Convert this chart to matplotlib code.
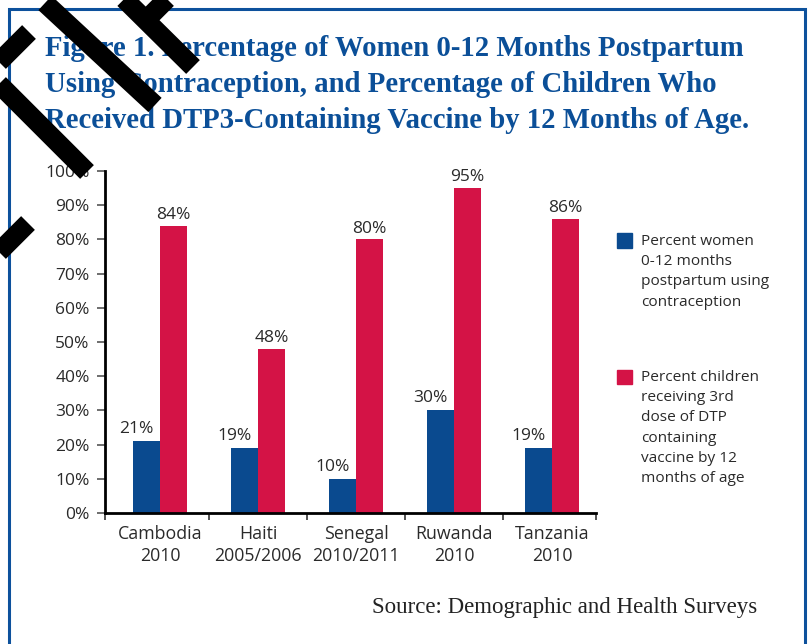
import numpy as np
import matplotlib
matplotlib.use("Agg")
import matplotlib.pyplot as plt
from matplotlib.lines import Line2D
from matplotlib.patches import Rectangle

countries = ["Cambodia\n2010", "Haiti\n2005/2006", "Senegal\n2010/2011",
             "Ruwanda\n2010", "Tanzania\n2010"]
women_pct = [21, 19, 10, 30, 19]
children_pct = [84, 48, 80, 95, 86]
legend_women = "Percent women\n0-12 months\npostpartum using\ncontraception"
legend_children = ("Percent children\nreceiving 3rd\ndose of DTP\ncontaining\n"
                   "vaccine by 12\nmonths of age")
title_lines = [
    "Figure 1. Percentage of Women 0-12 Months Postpartum",
    "Using Contraception, and Percentage of Children Who",
    "Received DTP3-Containing Vaccine by 12 Months of Age.",
]
source = "Source: Demographic and Health Surveys"

W, H = 809, 644
blue = "#0a4a8f"
red = "#d41346"
frame_blue = "#0d519c"
txt = "#2a2a2a"

plt.rcParams["font.family"] = ["Open Sans", "DejaVu Sans"]

fig = plt.figure(figsize=(W / 100, H / 100), dpi=100)

def fx(x):
    return x / W

def fy(y):
    return 1 - y / H

# frame
fig.patches.append(Rectangle((fx(9), fy(700)), fx(805) - fx(9), fy(9) - fy(700),
                             transform=fig.transFigure, fill=False,
                             edgecolor=frame_blue, linewidth=2.2))

# title
for i, line in enumerate(title_lines):
    fig.text(fx(45), fy([56, 92, 128][i]), line, family="Liberation Serif",
             fontweight="bold", fontsize=20.7, color="#0b4f98", va="baseline")

fig.text(fx(757), fy(607), source, family="Liberation Serif", fontsize=16.5,
         color="#222222", ha="right", va="center")

ax = fig.add_axes([fx(105), fy(513), fx(596) - fx(105), fy(171) - fy(513)])
x = np.arange(len(countries))
w = 0.28
ax.bar(x - w / 2, women_pct, w, color=blue)
ax.bar(x + w / 2, children_pct, w, color=red)
for xi, v in zip(x, women_pct):
    ax.annotate(f"{v}%", (xi - w / 2 - 0.1, v), xytext=(0, 3),
                textcoords="offset points", ha="center", va="bottom",
                fontsize=12.5, color=txt)
for xi, v in zip(x, children_pct):
    ax.annotate(f"{v}%", (xi + w / 2, v), xytext=(0, 2),
                textcoords="offset points", ha="center", va="bottom",
                fontsize=12.5, color=txt)

ax.set_xlim(-0.561, 4.449)
ax.set_ylim(0, 100)
ax.set_yticks(np.arange(0, 101, 10))
ax.set_yticklabels([f"{v}%" for v in range(0, 101, 10)], fontsize=12.5, color=txt)
ax.tick_params(axis="y", length=6, width=1.2, color="#555555", pad=5)
ax.set_xticks([-0.561, 0.5, 1.5, 2.5, 3.5, 4.449])
ax.set_xticklabels([])
ax.tick_params(axis="x", length=5, width=1.2, color="#333333")
for xi, lab in zip(x, countries):
    ax.text(xi, -3.5, lab, ha="center", va="top", fontsize=12.8, color=txt,
            linespacing=1.3)
for s in ["top", "right"]:
    ax.spines[s].set_visible(False)
for s in ["left", "bottom"]:
    ax.spines[s].set_linewidth(2)
    ax.spines[s].set_color("black")

# legend
fig.patches.append(Rectangle((fx(617), fy(248)), fx(632) - fx(617), fy(233) - fy(248),
                             transform=fig.transFigure, color=blue))
fig.text(fx(641), fy(234), legend_women, fontsize=11.1, color=txt, va="top",
         linespacing=1.47)
fig.patches.append(Rectangle((fx(617), fy(384)), fx(632) - fx(617), fy(370) - fy(384),
                             transform=fig.transFigure, color=red))
fig.text(fx(641), fy(370), legend_children, fontsize=11.1, color=txt, va="top",
         linespacing=1.47)

# black strokes over the top-left corner
strokes = [
    ((29, 32), (-10, 71)),
    ((-20, 65), (87, 172)),
    ((45, 3), (155, 105)),
    ((105, -20), (193, 67)),
    ((150, 16), (180, -14)),
    ((28, 223), (-20, 271)),
]
for (x0, y0), (x1, y1) in strokes:
    fig.add_artist(Line2D([fx(x0), fx(x1)], [fy(y0), fy(y1)],
                          transform=fig.transFigure, color="black",
                          linewidth=14, solid_capstyle="butt", zorder=10))

fig.savefig("out.png", dpi=100)
